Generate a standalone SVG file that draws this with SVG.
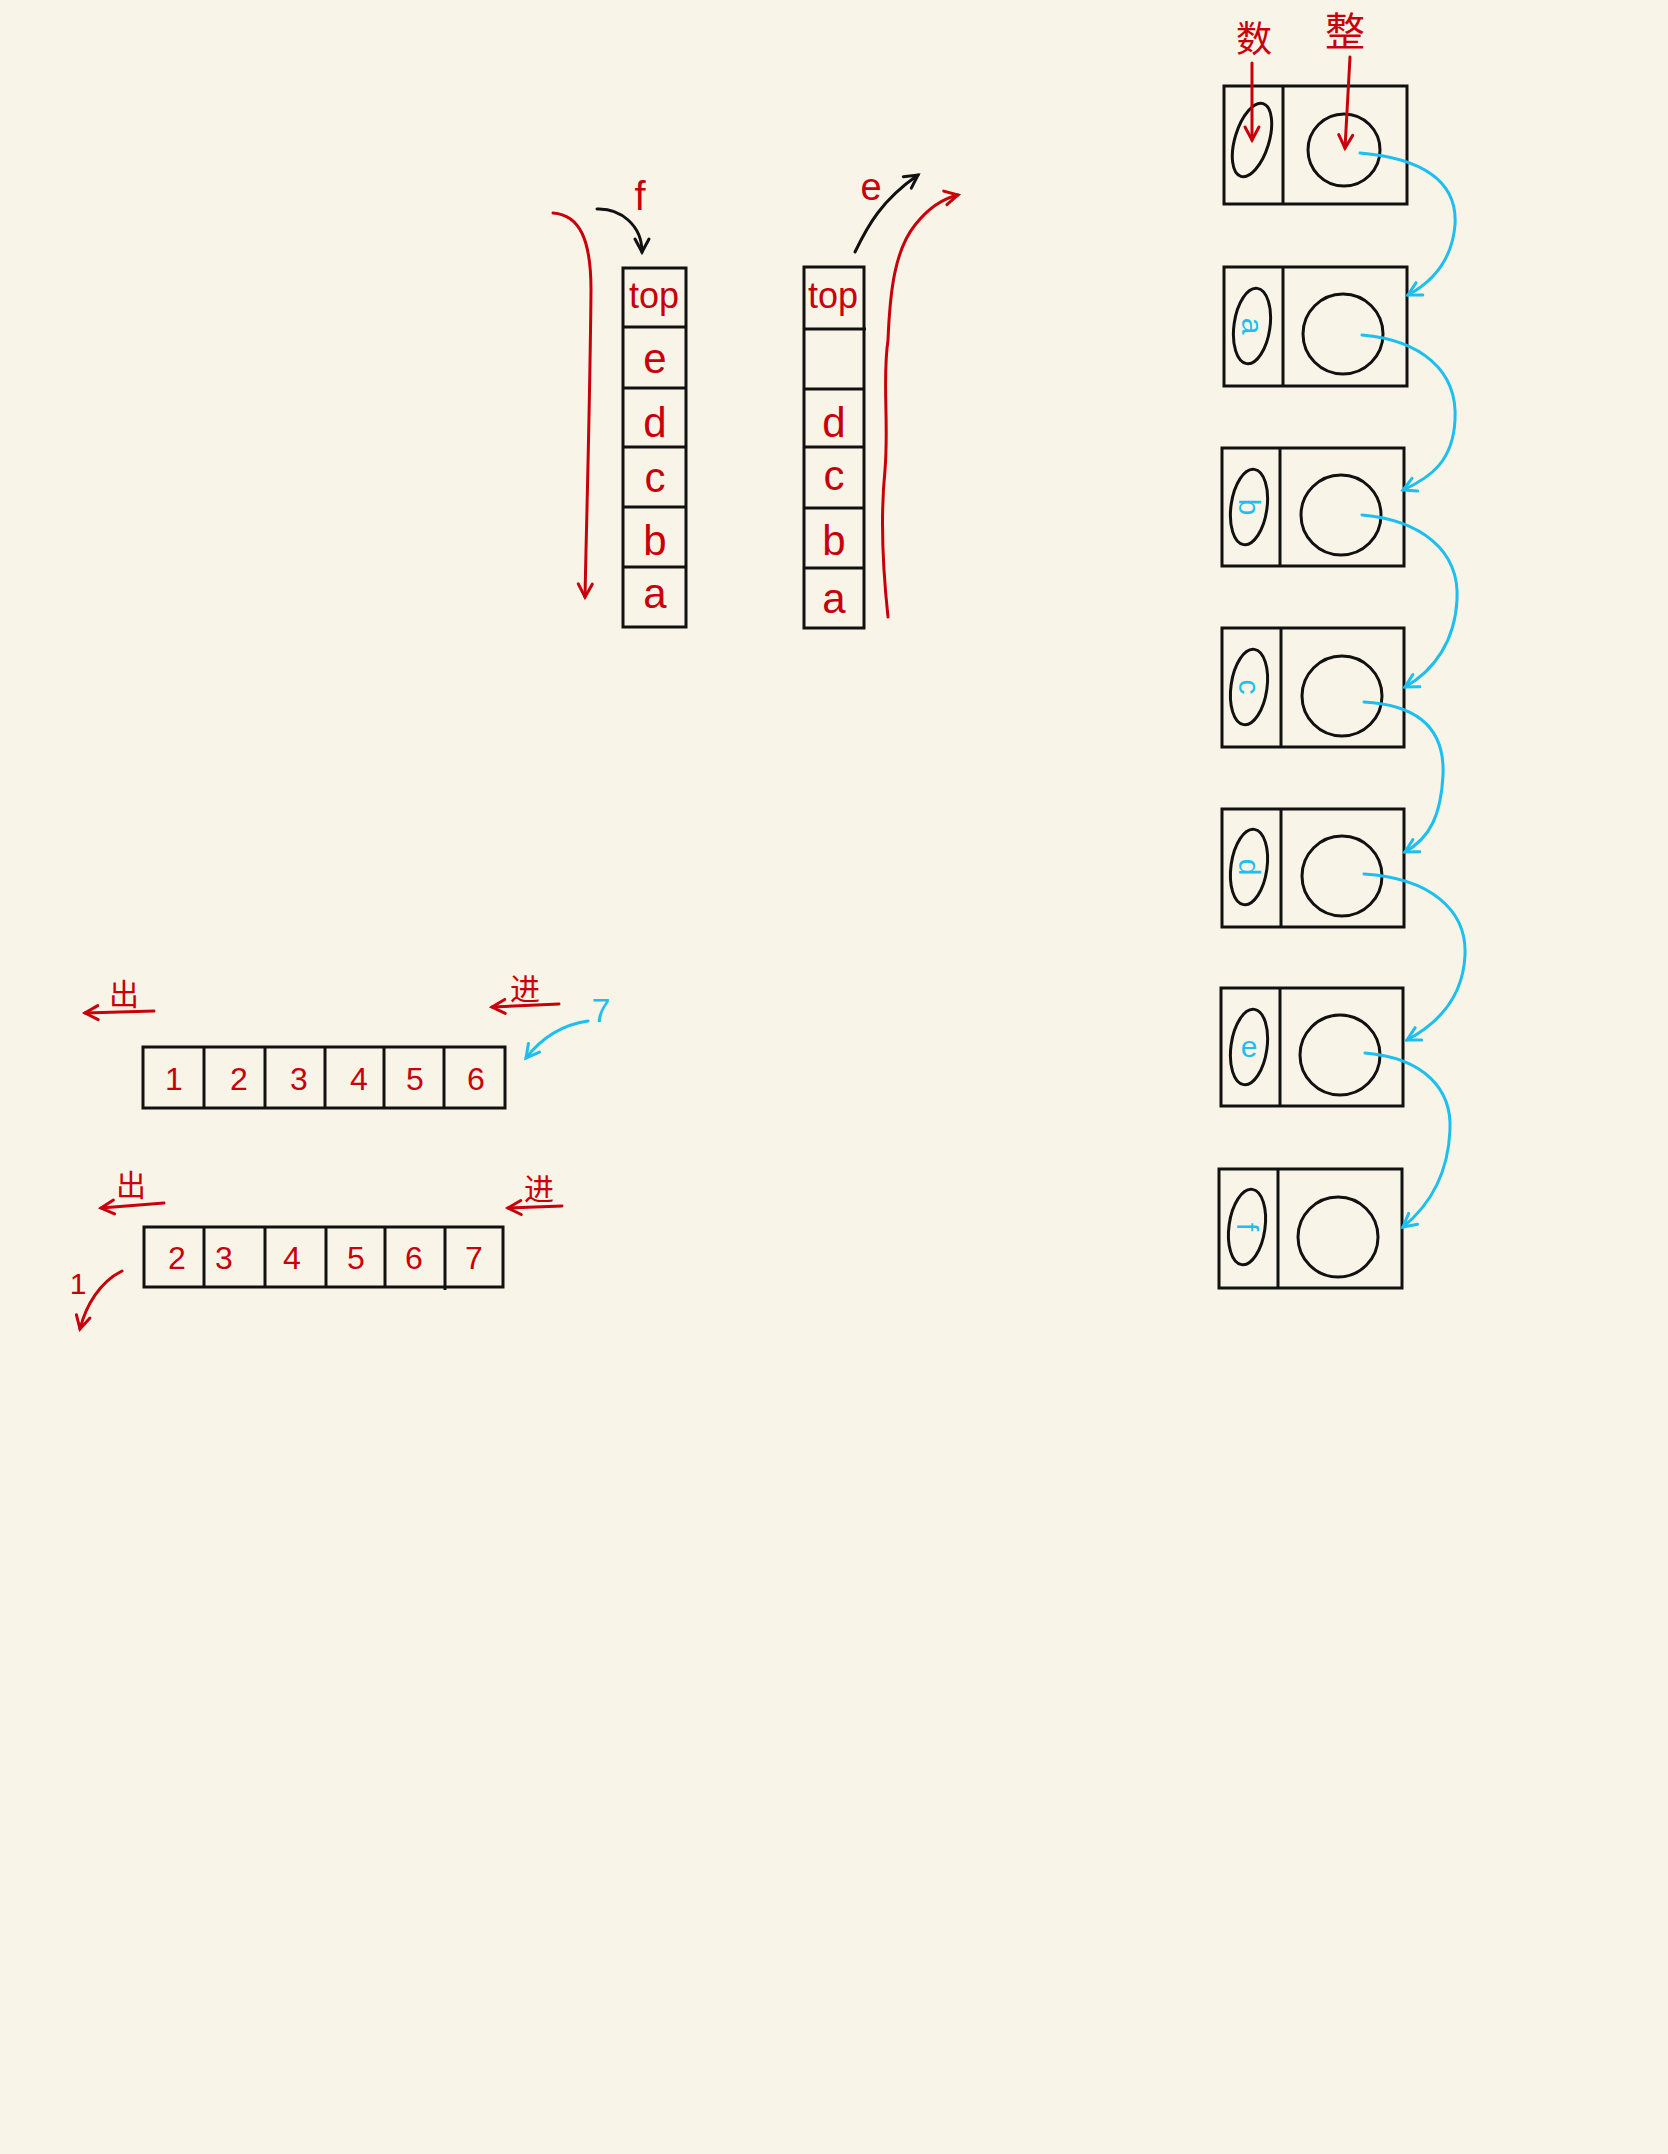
<svg xmlns="http://www.w3.org/2000/svg" width="1668" height="2154" viewBox="0 0 1668 2154">
<defs>
<style>
.bx{fill:none;stroke:#111;stroke-width:3}
.ln{stroke:#111;stroke-width:3}
.rt{fill:#C8000C;font-family:"Liberation Sans","Noto Sans CJK SC",sans-serif;text-anchor:middle}
.bt{fill:#1EBEEE;font-family:"Liberation Sans",sans-serif;text-anchor:middle;font-size:30px}
.ra{fill:none;stroke:#C8000C;stroke-width:3;stroke-linecap:round;marker-end:url(#mr)}
.ka{fill:none;stroke:#111;stroke-width:3;stroke-linecap:round;marker-end:url(#mk)}
.ba{fill:none;stroke:#1EBEEE;stroke-width:3;stroke-linecap:round;marker-end:url(#mb)}
</style>
<marker id="mr" viewBox="0 0 20 20" refX="16" refY="10" markerWidth="20" markerHeight="20" markerUnits="userSpaceOnUse" orient="auto"><path d="M3,3 L16,10 L3,17" fill="none" stroke="#C8000C" stroke-width="3" stroke-linecap="round"/></marker>
<marker id="mk" viewBox="0 0 20 20" refX="16" refY="10" markerWidth="20" markerHeight="20" markerUnits="userSpaceOnUse" orient="auto"><path d="M3,3 L16,10 L3,17" fill="none" stroke="#111" stroke-width="3" stroke-linecap="round"/></marker>
<marker id="mb" viewBox="0 0 20 20" refX="16" refY="10" markerWidth="20" markerHeight="20" markerUnits="userSpaceOnUse" orient="auto"><path d="M3,3 L16,10 L3,17" fill="none" stroke="#1EBEEE" stroke-width="3" stroke-linecap="round"/></marker>
</defs>
<rect width="1668" height="2154" fill="#F8F5E8"/>

<!-- Stack 1 -->
<g id="stack1">
<rect class="bx" x="623" y="268" width="63" height="359"/>
<line class="ln" x1="623" y1="327" x2="686" y2="327"/>
<line class="ln" x1="623" y1="388" x2="686" y2="388"/>
<line class="ln" x1="623" y1="447" x2="686" y2="447"/>
<line class="ln" x1="623" y1="507" x2="686" y2="507"/>
<line class="ln" x1="623" y1="567" x2="686" y2="567"/>
<text class="rt" x="654" y="308" font-size="36">top</text>
<text class="rt" x="655" y="373" font-size="42">e</text>
<text class="rt" x="655" y="437" font-size="42">d</text>
<text class="rt" x="655" y="492" font-size="42">c</text>
<text class="rt" x="655" y="555" font-size="42">b</text>
<text class="rt" x="655" y="608" font-size="42">a</text>
</g>

<!-- Stack 2 -->
<g id="stack2">
<rect class="bx" x="804" y="267" width="60" height="361"/>
<line class="ln" x1="804" y1="329" x2="866" y2="329"/>
<line class="ln" x1="804" y1="389" x2="864" y2="389"/>
<line class="ln" x1="804" y1="447" x2="864" y2="447"/>
<line class="ln" x1="804" y1="508" x2="864" y2="508"/>
<line class="ln" x1="804" y1="568" x2="864" y2="568"/>
<text class="rt" x="833" y="308" font-size="36">top</text>
<text class="rt" x="834" y="437" font-size="42">d</text>
<text class="rt" x="834" y="490" font-size="42">c</text>
<text class="rt" x="834" y="555" font-size="42">b</text>
<text class="rt" x="834" y="613" font-size="42">a</text>
</g>

<g id="label-f"><text class="rt" x="640" y="210" font-size="40">f</text></g>
<g id="label-e"><text class="rt" x="871" y="200" font-size="38">e</text></g>

<!-- Queue 1 -->
<g id="queue1">
<rect class="bx" x="143" y="1047" width="362" height="61"/>
<line class="ln" x1="204" y1="1047" x2="204" y2="1108"/>
<line class="ln" x1="265" y1="1047" x2="265" y2="1108"/>
<line class="ln" x1="325" y1="1047" x2="325" y2="1108"/>
<line class="ln" x1="384" y1="1047" x2="384" y2="1108"/>
<line class="ln" x1="444" y1="1047" x2="444" y2="1108"/>
<text class="rt" x="174" y="1090" font-size="32">1</text>
<text class="rt" x="239" y="1090" font-size="32">2</text>
<text class="rt" x="299" y="1090" font-size="32">3</text>
<text class="rt" x="359" y="1090" font-size="32">4</text>
<text class="rt" x="415" y="1090" font-size="32">5</text>
<text class="rt" x="476" y="1090" font-size="32">6</text>
</g>
<g id="q1-out"><text class="rt" x="124" y="1005" font-size="30">出</text></g>
<g id="q1-in"><text class="rt" x="525" y="1000" font-size="30">进</text></g>
<g id="q1-seven"><text x="601" y="1022" font-size="34" fill="#1EBEEE" font-family="Liberation Sans, sans-serif" text-anchor="middle">7</text></g>

<!-- Queue 2 -->
<g id="queue2">
<rect class="bx" x="144" y="1227" width="359" height="60"/>
<line class="ln" x1="204" y1="1227" x2="204" y2="1287"/>
<line class="ln" x1="265" y1="1227" x2="265" y2="1287"/>
<line class="ln" x1="326" y1="1227" x2="326" y2="1287"/>
<line class="ln" x1="385" y1="1227" x2="385" y2="1287"/>
<line class="ln" x1="445" y1="1227" x2="445" y2="1290"/>
<text class="rt" x="177" y="1269" font-size="32">2</text>
<text class="rt" x="224" y="1269" font-size="32">3</text>
<text class="rt" x="292" y="1269" font-size="32">4</text>
<text class="rt" x="356" y="1269" font-size="32">5</text>
<text class="rt" x="414" y="1269" font-size="32">6</text>
<text class="rt" x="474" y="1269" font-size="32">7</text>
</g>
<g id="q2-out"><text class="rt" x="131" y="1196" font-size="30">出</text></g>
<g id="q2-in"><text class="rt" x="539" y="1200" font-size="30">进</text></g>
<g id="q2-one"><text class="rt" x="78" y="1294" font-size="30">1</text></g>

<!-- Linked list nodes -->
<g id="lbl-data"><text class="rt" x="1254" y="52" font-size="36">数</text></g>
<g id="lbl-ptr"><text class="rt" x="1345" y="46" font-size="40">整</text></g>

<g id="node0">
<rect class="bx" x="1224" y="86" width="183" height="118"/>
<line class="ln" x1="1283" y1="86" x2="1283" y2="204"/>
<ellipse class="bx" cx="1252" cy="140" rx="17" ry="38" transform="rotate(17 1252 140)"/>
<circle class="bx" cx="1344" cy="150" r="36"/>
</g>
<g id="node1">
<rect class="bx" x="1224" y="267" width="183" height="119"/>
<line class="ln" x1="1283" y1="267" x2="1283" y2="386"/>
<ellipse class="bx" cx="1252" cy="326" rx="18" ry="38" transform="rotate(8 1252 326)"/>
<circle class="bx" cx="1343" cy="334" r="40"/>
<text class="bt" x="1252" y="336" transform="rotate(90 1252 326)">a</text>
</g>
<g id="node2">
<rect class="bx" x="1222" y="448" width="182" height="118"/>
<line class="ln" x1="1280" y1="448" x2="1280" y2="566"/>
<ellipse class="bx" cx="1249" cy="507" rx="18" ry="38" transform="rotate(8 1249 507)"/>
<circle class="bx" cx="1341" cy="515" r="40"/>
<text class="bt" x="1249" y="517" transform="rotate(90 1249 507)">b</text>
</g>
<g id="node3">
<rect class="bx" x="1222" y="628" width="182" height="119"/>
<line class="ln" x1="1281" y1="628" x2="1281" y2="747"/>
<ellipse class="bx" cx="1249" cy="687" rx="18" ry="38" transform="rotate(8 1249 687)"/>
<circle class="bx" cx="1342" cy="696" r="40"/>
<text class="bt" x="1249" y="697" transform="rotate(90 1249 687)">c</text>
</g>
<g id="node4">
<rect class="bx" x="1222" y="809" width="182" height="118"/>
<line class="ln" x1="1281" y1="809" x2="1281" y2="927"/>
<ellipse class="bx" cx="1249" cy="867" rx="18" ry="38" transform="rotate(8 1249 867)"/>
<circle class="bx" cx="1342" cy="876" r="40"/>
<text class="bt" x="1249" y="877" transform="rotate(90 1249 867)">d</text>
</g>
<g id="node5">
<rect class="bx" x="1221" y="988" width="182" height="118"/>
<line class="ln" x1="1280" y1="988" x2="1280" y2="1106"/>
<ellipse class="bx" cx="1249" cy="1047" rx="18" ry="38" transform="rotate(8 1249 1047)"/>
<circle class="bx" cx="1340" cy="1055" r="40"/>
<text class="bt" x="1249" y="1057">e</text>
</g>
<g id="node6">
<rect class="bx" x="1219" y="1169" width="183" height="119"/>
<line class="ln" x1="1278" y1="1169" x2="1278" y2="1288"/>
<ellipse class="bx" cx="1247" cy="1227" rx="18" ry="38" transform="rotate(8 1247 1227)"/>
<circle class="bx" cx="1338" cy="1237" r="40"/>
<text class="bt" x="1247" y="1237" transform="rotate(90 1247 1227)">f</text>
</g>

<!-- Connectors -->
<g id="connectors">
<path class="ra" d="M553,213 C580,215 591,240 591,290 C590,400 587,500 585,597"/>
<path class="ka" d="M597,209 C620,208 642,225 642,252"/>
<path class="ka" d="M855,252 C868,225 882,200 918,175"/>
<path class="ra" d="M888,617 C884,580 880,520 885,470 C889,420 882,380 888,340 C890,290 895,250 915,225 C930,206 945,198 958,195"/>
<path class="ra" d="M154,1011 L85,1013"/>
<path class="ra" d="M559,1004 L492,1007"/>
<path class="ba" d="M588,1021 C560,1025 540,1040 526,1058"/>
<path class="ra" d="M164,1203 L101,1208"/>
<path class="ra" d="M562,1206 L508,1208"/>
<path class="ra" d="M122,1271 C100,1282 86,1305 80,1329"/>
<path class="ra" d="M1252,63 L1252,140"/>
<path class="ra" d="M1350,57 L1345,148"/>
<path class="ba" d="M1360,153 C1420,158 1458,180 1455,225 C1452,260 1432,282 1408,295"/>
<path class="ba" d="M1362,335 C1420,340 1458,370 1455,420 C1453,460 1432,477 1403,490"/>
<path class="ba" d="M1362,515 C1420,520 1460,550 1457,600 C1455,640 1435,670 1405,687"/>
<path class="ba" d="M1364,702 C1420,705 1445,730 1443,775 C1441,815 1430,838 1405,852"/>
<path class="ba" d="M1364,874 C1430,878 1467,910 1465,955 C1463,1000 1435,1025 1407,1040"/>
<path class="ba" d="M1365,1053 C1425,1058 1452,1090 1450,1130 C1448,1175 1430,1205 1403,1227"/>
</g>
</svg>
